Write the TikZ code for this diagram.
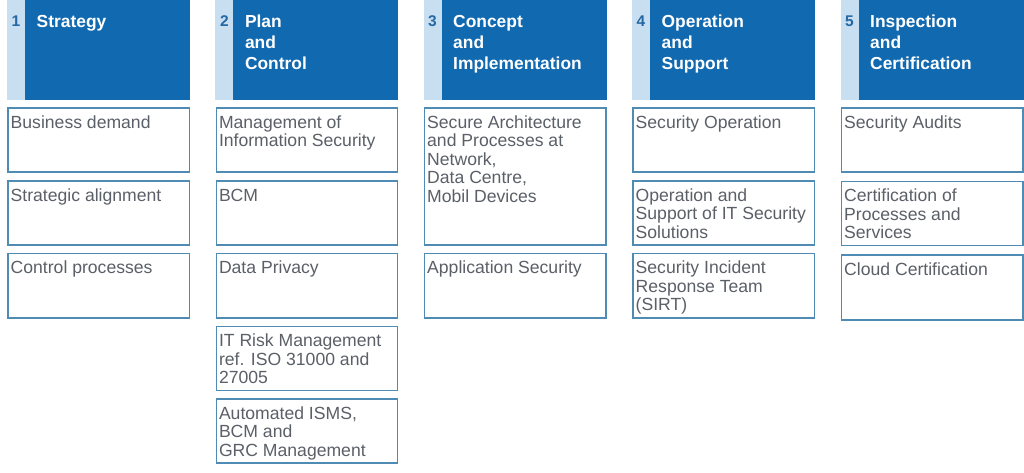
\documentclass[tikz,border=0pt]{standalone}
\usepackage{fontspec}
\setmainfont{Liberation Sans}
\definecolor{hdrblue}{HTML}{1169B0}
\definecolor{stripblue}{HTML}{C8DEF1}
\definecolor{numblue}{HTML}{2468A4}
\definecolor{cellline}{HTML}{4F8BB2}
\definecolor{celltext}{HTML}{5B6068}
\tikzset{
  cell/.style={draw=cellline, line width=1.2pt, minimum width=181.5pt, inner sep=0pt, outer sep=0pt},
  celltxt/.style={inner sep=0pt, align=left, text=celltext, font=\fontsize{17.6}{18.5}\selectfont},
  stripbox/.style={fill=stripblue, minimum width=18pt, minimum height=100pt, inner sep=0pt, outer sep=0pt, anchor=north west},
  hdrbox/.style={fill=hdrblue, minimum width=165pt, minimum height=100pt, inner sep=0pt, outer sep=0pt, anchor=north west},
  numtxt/.style={inner sep=0pt, text=numblue, font=\bfseries\fontsize{15.5}{16}\selectfont, anchor=base west},
  ttltxt/.style={inner sep=0pt, align=left, text=white, font=\bfseries\fontsize{17.4}{21}\selectfont, anchor=north west},
}
\newcommand{\mkcell}[5]{%
  \node[cell, minimum height=#4pt, anchor=north west] (#1) at (#2,#3) {};
  \node[celltxt, anchor=north west] (#1t) at ([xshift=2.5pt, yshift=-6pt]#1.north west) {\rule{0pt}{14pt}#5};
}
\begin{document}
\begin{tikzpicture}[x=1pt,y=-1pt]
\useasboundingbox (0,0) rectangle (1024,472);
\fill[white] (0,0) rectangle (1024,472);
% headers
\foreach \i/\cx/\ttl in {1/8/{Strategy},2/216.3/{Plan\\and\\Control},3/424.5/{Concept\\and\\Implementation},4/633/{Operation\\and\\Support},5/841.5/{Inspection\\and\\Certification}}{
  \node[stripbox] (s\i) at (\cx-1,0) {};
  \node[hdrbox] (h\i) at (\cx+17,0) {};
  \node[numtxt] (n\i) at (\cx+3.5,26.5) {\i};
  \node[ttltxt] (t\i) at (\cx+28.5,13) {\rule{0pt}{14pt}\ttl};
}
% column 1
\mkcell{a1}{8}{108}{64}{Business demand}
\mkcell{a2}{8}{181}{64}{Strategic alignment}
\mkcell{a3}{8}{253.5}{64.5}{Control processes}
% column 2
\mkcell{b1}{216.3}{108}{64}{Management of\\Information Security}
\mkcell{b2}{216.3}{181}{64}{BCM}
\mkcell{b3}{216.3}{253.5}{64.5}{Data Privacy}
\mkcell{b4}{216.3}{326.5}{64}{IT Risk Management\\ref. ISO 31000 and\\27005}
\mkcell{b5}{216.3}{399}{64}{Automated ISMS,\\BCM and\\GRC Management}
% column 3
\mkcell{c1}{424.5}{108}{137}{Secure Architecture\\and Processes at\\Network,\\Data Centre,\\Mobil Devices}
\mkcell{c2}{424.5}{253.5}{64.5}{Application Security}
% column 4
\mkcell{d1}{633}{108}{64}{Security Operation}
\mkcell{d2}{633}{181}{64}{Operation and\\Support of IT Security\\Solutions}
\mkcell{d3}{633}{253.5}{64.5}{Security Incident\\Response Team\\(SIRT)}
% column 5
\mkcell{e1}{841.5}{108}{64}{Security Audits}
\mkcell{e2}{841.5}{181.5}{64}{Certification of\\Processes and\\Services}
\mkcell{e3}{841.5}{255}{65}{Cloud Certification}
\end{tikzpicture}
\end{document}
